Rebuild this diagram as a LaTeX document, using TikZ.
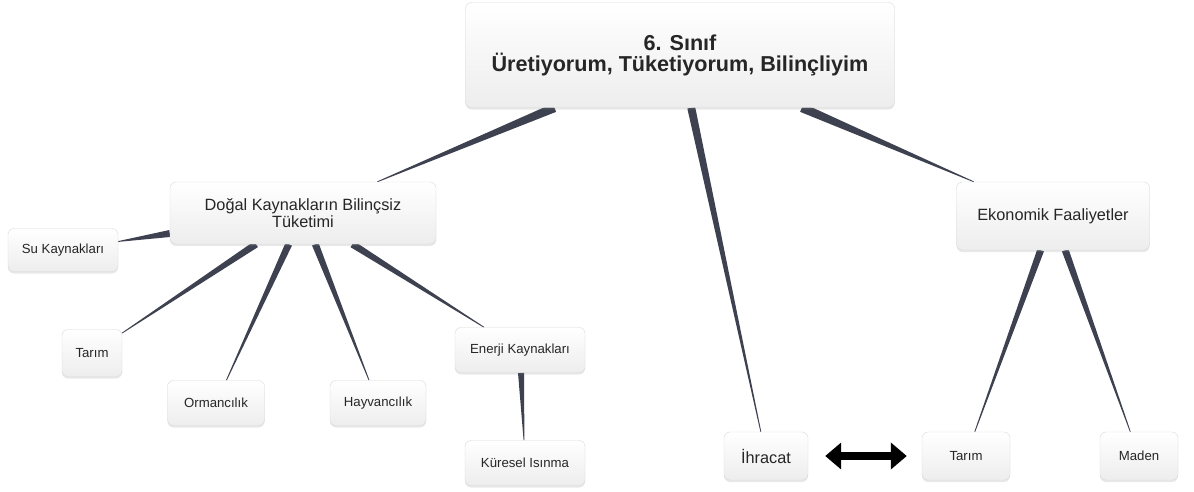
\documentclass[tikz,border=0pt]{standalone}
\usepackage{fontspec}
\setmainfont{Liberation Sans}
\usetikzlibrary{calc,shadows,backgrounds,arrows.meta}
\definecolor{linkgray}{HTML}{3E4250}
\begin{document}
\begin{tikzpicture}[x=1pt, y=-1pt,
    every node/.style = {shape=rectangle, rounded corners=6pt, draw=gray!30, align=center,
      top color=white, bottom color=gray!14, text=black!85,
      drop shadow={opacity=0.18, shadow xshift=0pt, shadow yshift=-2pt}},
    small/.style = {font=\fontsize{13.2}{15}\selectfont},
    big/.style = {font=\fontsize{16.3}{17}\selectfont}
    ]
    \useasboundingbox (0,0) rectangle (1194,491);
    \node (root) [minimum width=429pt, minimum height=105pt, font=\fontsize{21.6}{21}\selectfont\bfseries]
      at (680,55) {6. Sınıf\\Üretiyorum, Tüketiyorum, Bilinçliyim};
    \node (dogal) [big, minimum width=266pt, minimum height=62pt] at (303,213) {Doğal Kaynakların Bilinçsiz\\Tüketimi};
    \node (su) [small, minimum width=110pt, minimum height=43pt] at (63,250) {Su Kaynakları};
    \node (tarim) [small, minimum width=60pt, minimum height=47pt] at (92,353) {Tarım};
    \node (orman) [small, minimum width=97pt, minimum height=45pt] at (216,403) {Ormancılık};
    \node (hayvan) [small, minimum width=96pt, minimum height=45pt] at (378,403) {Hayvancılık};
    \node (enerji) [small, minimum width=130pt, minimum height=45pt] at (520,350) {Enerji Kaynakları};
    \node (isinma) [small, minimum width=120pt, minimum height=45pt] at (525,463) {Küresel Isınma};
    \node (ihracat) [big, minimum width=84pt, minimum height=48pt] at (766,456) {İhracat};
    \node (ekonomik) [big, minimum width=193pt, minimum height=68pt] at (1053,216) {Ekonomik Faaliyetler};
    \node (tarim2) [small, minimum width=88pt, minimum height=48pt] at (966,456) {Tarım};
    \node (maden) [small, minimum width=78pt, minimum height=48pt] at (1139,456) {Maden};
    % tapered links, wide end at the parent
    \begin{scope}[on background layer, every node/.style={}]
      \foreach \a/\b/\w in {root/dogal/4.5, root/ihracat/4, root/ekonomik/4.5, dogal/su/3.5,
          dogal/tarim/3.5, dogal/orman/3.5, dogal/hayvan/3.5, dogal/enerji/3.5,
          enerji/isinma/3, ekonomik/tarim2/3.5, ekonomik/maden/3.5} {
        \path (\a) -- (\b) coordinate[pos=0] (s) coordinate[pos=1] (t);
        \fill[linkgray] ($(s)!\w pt!90:(t)$) -- ($(s)!\w pt!-90:(t)$)
          -- ($(t)!0.4pt!90:(s)$) -- ($(t)!0.4pt!-90:(s)$) -- cycle;
      }
    \end{scope}
    \draw[line width=7.5pt, {Triangle[length=16pt,width=26pt]}-{Triangle[length=16pt,width=26pt]},
      shorten <=17pt, shorten >=15pt] (ihracat) -- (tarim2);
  \end{tikzpicture}
\end{document}
